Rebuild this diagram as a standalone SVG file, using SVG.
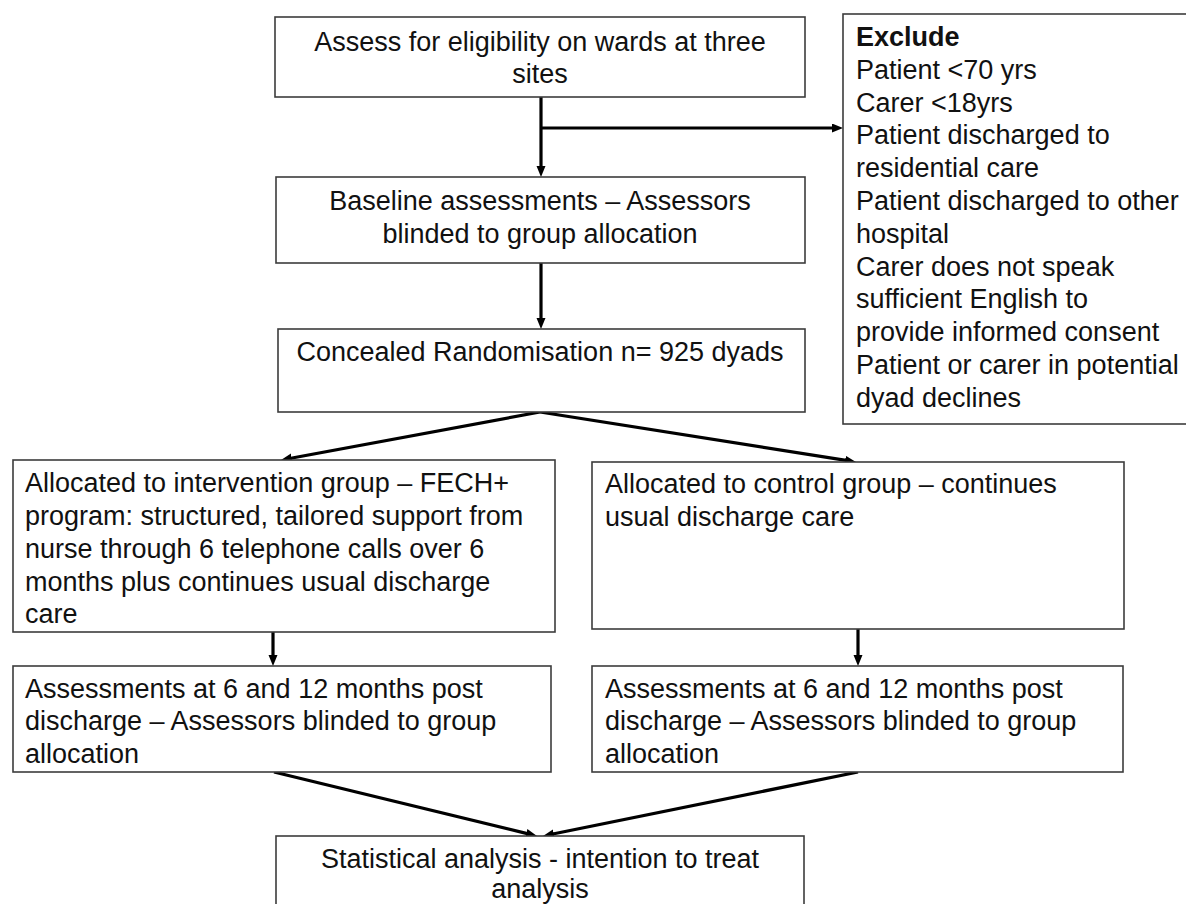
<svg xmlns="http://www.w3.org/2000/svg" width="1186" height="904" viewBox="0 0 1186 904">
<defs>
<style>
.box{fill:#fff;stroke:#3c3c3c;stroke-width:1.6}
.t{font-family:"Liberation Sans",Arial,sans-serif;font-size:27px;fill:#111}
.c{text-anchor:middle}
.b{font-weight:bold}
.con{stroke:#000;stroke-width:3.2;fill:none}
</style>
<marker id="ah" markerUnits="userSpaceOnUse" markerWidth="12" markerHeight="10" refX="1" refY="4.5" orient="auto">
<path d="M0,0 L11,4.5 L0,9 z" fill="#000"/>
</marker>
</defs>
<rect width="1186" height="904" fill="#fff"/>

<g id="connectors">
<line class="con" x1="541" y1="97" x2="541" y2="167" marker-end="url(#ah)"/>
<line class="con" x1="541" y1="128" x2="833" y2="128" marker-end="url(#ah)"/>
<line class="con" x1="541" y1="263" x2="541" y2="319" marker-end="url(#ah)"/>
<line class="con" x1="540" y1="412" x2="290.8" y2="458.2" marker-end="url(#ah)"/>
<line class="con" x1="540" y1="412" x2="846.1" y2="460.4" marker-end="url(#ah)"/>
<line class="con" x1="273" y1="632" x2="273" y2="656" marker-end="url(#ah)"/>
<line class="con" x1="858" y1="629" x2="858" y2="656" marker-end="url(#ah)"/>
<line class="con" x1="274" y1="772" x2="527.3" y2="833.6" marker-end="url(#ah)"/>
<line class="con" x1="858" y1="772" x2="552.8" y2="834" marker-end="url(#ah)"/>
</g>

<g id="assess">
<rect class="box" x="275" y="17" width="530" height="80"/>
<text class="t c" x="540" y="51">Assess for eligibility on wards at three</text>
<text class="t c" x="540" y="83">sites</text>
</g>

<g id="exclude">
<rect class="box" x="843" y="14" width="350" height="410"/>
<text class="t b" x="856" y="46">Exclude</text>
<text class="t" x="856" y="79">Patient &lt;70 yrs</text>
<text class="t" x="856" y="112">Carer &lt;18yrs</text>
<text class="t" x="856" y="144">Patient discharged to</text>
<text class="t" x="856" y="177">residential care</text>
<text class="t" x="856" y="210">Patient discharged to other</text>
<text class="t" x="856" y="243">hospital</text>
<text class="t" x="856" y="276">Carer does not speak</text>
<text class="t" x="856" y="308">sufficient English to</text>
<text class="t" x="856" y="341">provide informed consent</text>
<text class="t" x="856" y="374">Patient or carer in potential</text>
<text class="t" x="856" y="407">dyad declines</text>
</g>

<g id="baseline">
<rect class="box" x="276" y="177" width="529" height="86"/>
<text class="t c" x="540" y="210">Baseline assessments – Assessors</text>
<text class="t c" x="540" y="243">blinded to group allocation</text>
</g>

<g id="randomisation">
<rect class="box" x="278" y="329" width="527" height="83"/>
<text class="t c" x="540" y="361">Concealed Randomisation n= 925 dyads</text>
</g>

<g id="intervention">
<rect class="box" x="13" y="460" width="542" height="172"/>
<text class="t" x="25" y="492">Allocated to intervention group – FECH+</text>
<text class="t" x="25" y="525">program: structured, tailored support from</text>
<text class="t" x="25" y="558">nurse through 6 telephone calls over 6</text>
<text class="t" x="25" y="591">months plus continues usual discharge</text>
<text class="t" x="25" y="623">care</text>
</g>

<g id="control">
<rect class="box" x="592" y="462" width="532" height="167"/>
<text class="t" x="605" y="493">Allocated to control group – continues</text>
<text class="t" x="605" y="526">usual discharge care</text>
</g>

<g id="followup-intervention">
<rect class="box" x="13" y="666" width="538" height="106"/>
<text class="t" x="25" y="698">Assessments at 6 and 12 months post</text>
<text class="t" x="25" y="730">discharge – Assessors blinded to group</text>
<text class="t" x="25" y="763">allocation</text>
</g>

<g id="followup-control">
<rect class="box" x="592" y="666" width="531" height="106"/>
<text class="t" x="605" y="698">Assessments at 6 and 12 months post</text>
<text class="t" x="605" y="730">discharge – Assessors blinded to group</text>
<text class="t" x="605" y="763">allocation</text>
</g>

<g id="analysis">
<rect class="box" x="276" y="836" width="528" height="80"/>
<text class="t c" x="540" y="868">Statistical analysis - intention to treat</text>
<text class="t c" x="540" y="898">analysis</text>
</g>
</svg>
